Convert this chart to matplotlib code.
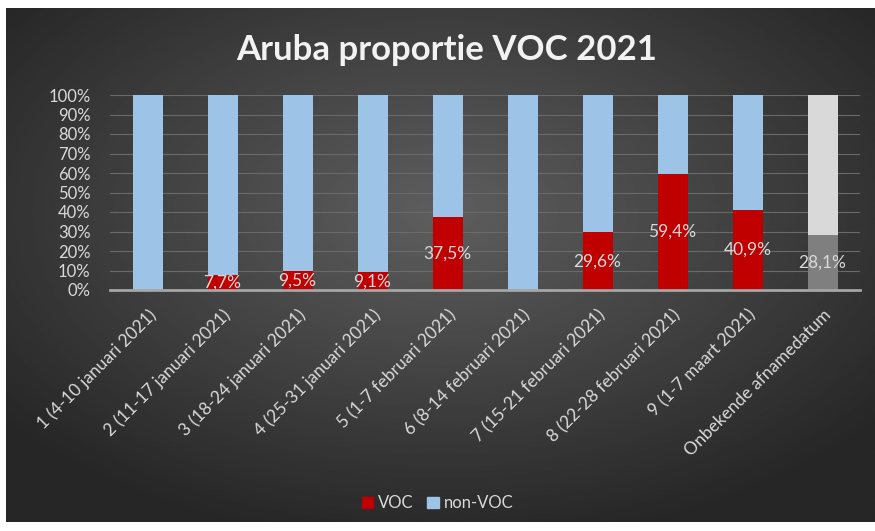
import numpy as np
import matplotlib.pyplot as plt
import matplotlib.ticker as ticker

# data
weeks = [
    "1 (4-10 januari 2021)",
    "2 (11-17 januari 2021)",
    "3 (18-24 januari 2021)",
    "4 (25-31 januari 2021)",
    "5 (1-7 februari 2021)",
    "6 (8-14 februari 2021)",
    "7 (15-21 februari 2021)",
    "8 (22-28 februari 2021)",
    "9 (1-7 maart 2021)",
    "Onbekende afnamedatum",
]
voc = [0.0, 7.7, 9.5, 9.1, 37.5, 0.0, 29.6, 59.4, 40.9, 28.1]
non_voc = [100 - v for v in voc]

voc_colors = ["#c00000"] * 9 + ["#7f7f7f"]
non_voc_colors = ["#9dc3e6"] * 9 + ["#d9d9d9"]
text_color = "#d9d9d9"

plt.rcParams["font.family"] = ["Lato", "DejaVu Sans"]

fig = plt.figure(figsize=(8.75, 5.31), dpi=100)
fig.patch.set_facecolor("white")

# dark radial-gradient panel behind the chart
bg = fig.add_axes([6 / 875, 9 / 531, 869 / 875, 514 / 531], zorder=-1)
gx, gy = np.meshgrid(np.linspace(-1, 1, 400), np.linspace(-1, 1, 300))
r = np.clip(np.sqrt(gx ** 2 + (gy + 0.2) ** 2) / 1.3, 0, 1)
shade = 0.37 - 0.22 * r
bg.imshow(shade, cmap="gray", vmin=0, vmax=1, aspect="auto", interpolation="bilinear")
bg.axis("off")

ax = fig.add_axes([110 / 875, 241 / 531, 750 / 875, 195 / 531])
ax.patch.set_alpha(0)

x = np.arange(len(weeks))
b1 = ax.bar(x, voc, width=0.4, color=voc_colors, zorder=3, label="VOC")
b2 = ax.bar(x, non_voc, width=0.4, bottom=voc, color=non_voc_colors, zorder=3, label="non-VOC")

for xi, v in zip(x, voc):
    if v > 0:
        ax.text(xi, v / 2, f"{v:.1f}%".replace(".", ","), ha="center", va="center",
                color=text_color, fontsize=12.5, zorder=4)

ax.set_xlim(-0.5, len(weeks) - 0.5)
ax.set_ylim(0, 100)
ax.set_yticks(range(0, 101, 10))
ax.yaxis.set_major_formatter(ticker.FuncFormatter(lambda v, p: f"{int(v)}%"))
ax.set_xticks(x)
ax.set_xticklabels(weeks, rotation=45, ha="right", rotation_mode="anchor")
ax.tick_params(axis="y", length=0, colors=text_color, labelsize=12, pad=14)
ax.tick_params(axis="x", length=0, colors=text_color, labelsize=12.5, pad=12)
ax.grid(axis="y", color="#6a6a6a", linewidth=0.8, zorder=0)
for s in ["top", "right", "left"]:
    ax.spines[s].set_visible(False)
ax.spines["bottom"].set_color("#a6a6a6")
ax.spines["bottom"].set_linewidth(2)
ax.spines["bottom"].set_zorder(5)

fig.text(0.51, 0.905, "Aruba proportie VOC 2021", ha="center", va="center",
         color="#f2f2f2", fontsize=25, fontweight="bold")

leg = fig.legend(handles=[b1[0], b2[0]], labels=["VOC", "non-VOC"], loc="center",
                 bbox_to_anchor=(0.5, 0.052), ncol=2, frameon=False,
                 handlelength=0.7, handleheight=0.7, handletextpad=0.3,
                 columnspacing=0.8, fontsize=12)
leg.legend_handles[0].set_color("#c00000")
leg.legend_handles[1].set_color("#9dc3e6")
for t in leg.get_texts():
    t.set_color(text_color)

fig.savefig("out.png", dpi=100)
